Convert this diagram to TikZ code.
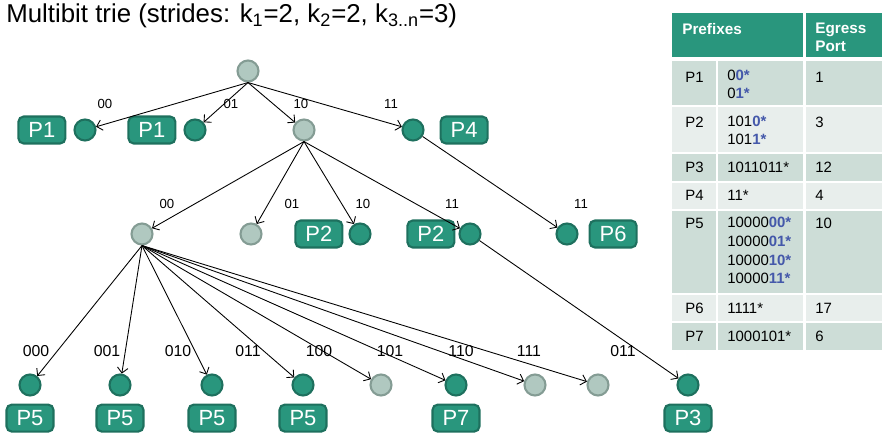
\documentclass[tikz,border=0pt]{standalone}
\usepackage{fontspec}
\setmainfont{Liberation Sans}
\usetikzlibrary{arrows.meta, positioning}
\definecolor{trieteal}{RGB}{41, 150, 125}
\definecolor{tealdark}{RGB}{30, 112, 94}
\definecolor{grayfill}{RGB}{176, 200, 192}
\definecolor{grayline}{RGB}{132, 156, 148}
\definecolor{rowdark}{RGB}{205, 221, 215}
\definecolor{rowlight}{RGB}{232, 238, 236}
\definecolor{bitblue}{RGB}{68, 88, 170}
\newcommand{\bitb}[1]{\textcolor{bitblue}{\textbf{#1}}}

\begin{document}
\begin{tikzpicture}[x=0.02cm, y=-0.02cm,
            inner/.style={circle, draw=grayline, fill=grayfill, line width=1.2pt, minimum size=0.42cm, inner sep=0pt},
            leaf/.style={circle, draw=tealdark, fill=trieteal, line width=1.2pt, minimum size=0.42cm, inner sep=0pt},
            pbox/.style={draw=tealdark, fill=trieteal, line width=1.2pt, rounded corners=3pt, minimum width=0.94cm, minimum height=0.54cm, inner sep=0pt, text=white, font=\fontsize{12.5}{12.5}\selectfont},
            bits/.style={inner sep=0pt, font=\fontsize{7.5}{8}\selectfont},
            bigbits/.style={inner sep=0pt, font=\fontsize{9}{10}\selectfont},
            edge/.style={-{Straight Barb[length=3pt, width=6pt]}, line width=0.5pt},
            tcell/.style={anchor=north west, inner sep=0pt, align=left, font=\fontsize{8.5}{10}\selectfont},
            thead/.style={tcell, text=white, font=\fontsize{8.7}{10}\selectfont\bfseries}
        ]
            \useasboundingbox (0,0) rectangle (887,442);

            % Title
            \node[anchor=base west, inner sep=0pt, font=\fontsize{14.7}{16}\selectfont] (title) at (6,23) {Multibit trie (strides: k\textsubscript{1}=2, k\textsubscript{2}=2, k\textsubscript{3..n}=3)};

            % Level 0 and 1
            \node[inner] (root) at (248,71) {};
            \node[leaf] (a00) at (85,130) {};
            \node[leaf] (a01) at (195,130) {};
            \node[inner] (a10) at (304,130) {};
            \node[leaf] (a11) at (413,130) {};
            \node[pbox, left=0.14cm of a00] (p1a) {P1};
            \node[pbox, left=0.14cm of a01] (p1b) {P1};
            \node[pbox, right=0.3cm of a11] (p4) {P4};

            % Level 2
            \node[inner] (b00) at (142,234) {};
            \node[inner] (b01) at (251,234) {};
            \node[leaf] (b10) at (360,234) {};
            \node[leaf] (b11) at (470,234) {};
            \node[leaf] (c11) at (567,234) {};
            \node[pbox, left=0.1cm of b10] (p2a) {P2};
            \node[pbox, left=0.06cm of b11] (p2b) {P2};
            \node[pbox, right=0.2cm of c11] (p6) {P6};

            % Level 3
            \node[leaf] (c000) at (30,385) {};
            \node[leaf] (c001) at (120,385) {};
            \node[leaf] (c010) at (212,385) {};
            \node[leaf] (c011) at (303,385) {};
            \node[inner] (c100) at (381,385) {};
            \node[leaf] (c101) at (456,385) {};
            \node[inner] (c110) at (535,385) {};
            \node[inner] (c111) at (598,385) {};
            \node[leaf] (d011) at (688,385) {};
            \node[pbox, below=0.14cm of c000] (p5a) {P5};
            \node[pbox, below=0.14cm of c001] (p5b) {P5};
            \node[pbox, below=0.14cm of c010] (p5c) {P5};
            \node[pbox, below=0.14cm of c011] (p5d) {P5};
            \node[pbox, below=0.14cm of c101] (p7) {P7};
            \node[pbox, below=0.14cm of d011] (p3) {P3};

            % Arrows
            \foreach \n in {a00, a01, a10, a11}
                \draw[edge] (root.south) -- (\n);
            \foreach \n in {b00, b01, b10, b11}
                \draw[edge] (a10.south) -- (\n);
            \draw[edge] (a11) -- (c11);
            \foreach \n in {c000, c001, c010, c011, c100, c101, c110, c111}
                \draw[edge] (b00.south) -- (\n);
            \draw[edge] (b11) -- (d011);

            % Edge labels
            \node[bits] (la00) at (105,104) {00};
            \node[bits] (la01) at (231,104) {01};
            \node[bits] (la10) at (301,104) {10};
            \node[bits] (la11) at (391,104) {11};
            \node[bits] (lb00) at (167,204) {00};
            \node[bits] (lb01) at (292,204) {01};
            \node[bits] (lb10) at (363,204) {10};
            \node[bits] (lb11) at (452,204) {11};
            \node[bits] (lc11) at (581,204) {11};
            \node[bigbits] (lc000) at (36,351) {000};
            \node[bigbits] (lc001) at (107,351) {001};
            \node[bigbits] (lc010) at (178,351) {010};
            \node[bigbits] (lc011) at (248,351) {011};
            \node[bigbits] (lc100) at (319,351) {100};
            \node[bigbits] (lc101) at (390,351) {101};
            \node[bigbits] (lc110) at (461,351) {110};
            \node[bigbits] (lc111) at (529,351) {111};
            \node[bigbits] (ld011) at (623,351) {011};

            % Table
            \fill[trieteal] (672,13) rectangle (803,57);
            \fill[trieteal] (806,13) rectangle (882,57);
            \foreach \ya/\yb/\c in {61/105/rowdark, 107/152/rowlight, 154/181/rowdark, 183/209/rowlight, 211/293/rowdark, 295/321/rowlight, 323/350/rowdark} {
                \fill[\c] (672,\ya) rectangle (716,\yb);
                \fill[\c] (718,\ya) rectangle (803,\yb);
                \fill[\c] (806,\ya) rectangle (882,\yb);
            }
            \node[thead] (hpre) at (682,23) {Prefixes};
            \node[thead] (hport) at (815,23) {Egress\\Port};

            \node[tcell] (r1) at (685,72) {P1};
            \node[tcell] (r1p) at (727,70) {0\bitb{0*}\\0\bitb{1*}};
            \node[tcell] (r1e) at (815,72) {1};
            \node[tcell] (r2) at (685,117) {P2};
            \node[tcell] (r2p) at (727,116) {101\bitb{0*}\\101\bitb{1*}};
            \node[tcell] (r2e) at (815,117) {3};
            \node[tcell] (r3) at (685,162) {P3};
            \node[tcell] (r3p) at (727,162) {1011011*};
            \node[tcell] (r3e) at (815,162) {12};
            \node[tcell] (r4) at (685,190) {P4};
            \node[tcell] (r4p) at (727,190) {11*};
            \node[tcell] (r4e) at (815,190) {4};
            \node[tcell, font=\fontsize{8.5}{10.6}\selectfont] (r5) at (685,218) {P5};
            \node[tcell, font=\fontsize{8.5}{10.6}\selectfont] (r5p) at (727,217) {10000\bitb{00*}\\10000\bitb{01*}\\10000\bitb{10*}\\10000\bitb{11*}};
            \node[tcell] (r5e) at (815,218) {10};
            \node[tcell] (r6) at (685,303) {P6};
            \node[tcell] (r6p) at (727,303) {1111*};
            \node[tcell] (r6e) at (815,303) {17};
            \node[tcell] (r7) at (685,331) {P7};
            \node[tcell] (r7p) at (727,331) {1000101*};
            \node[tcell] (r7e) at (815,331) {6};

        \end{tikzpicture}
\end{document}
